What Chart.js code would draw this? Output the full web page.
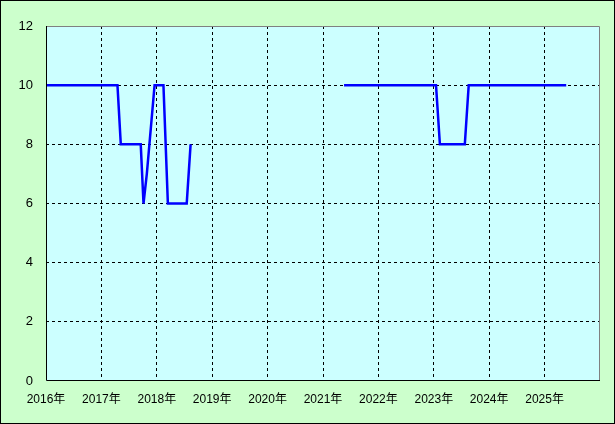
<!DOCTYPE html>
<html lang="ja">
<head>
  <meta charset="UTF-8" />
  <title>推移</title>
  <script src="https://cdn.jsdelivr.net/npm/chart.js"></script>
  <style>
    html, body { margin: 0; padding: 0; background: #fff; }
    #wrap { position: relative; width: 615px; height: 424px; }
  </style>
</head>
<body>
  <div id="wrap"><canvas id="chart"></canvas></div>

  <script>
    // (decimal years), null breaks the line
    const xYears = [2016.0, 2017.29, 2017.35, 2017.71, 2017.76, 2017.82, 2017.96, 2018.12, 2018.20, 2018.54, 2018.61,
                    2020.0,
                    2021.38, 2023.04, 2023.11, 2023.56, 2023.63, 2025.39];
    const values = [10, 10, 8, 8, 6, 7, 10, 10, 6, 6, 8,
                    null,
                    10, 10, 8, 8, 10, 10];
    const yTicks = [0, 2, 4, 6, 8, 10, 12];
    const xTicks = [2016, 2017, 2018, 2019, 2020, 2021, 2022, 2023, 2024, 2025, 2026];

    const fontFam = '"Liberation Sans", "Noto Sans CJK JP", sans-serif';

    const frame = {
      id: 'frame',
      beforeDraw(chart) {
        const { ctx, chartArea: a, width, height } = chart;
        ctx.save();
        ctx.fillStyle = '#CCFFCC';
        ctx.fillRect(0, 0, width, height);
        ctx.strokeStyle = '#000';
        ctx.lineWidth = 1;
        ctx.strokeRect(0.5, 0.5, width - 1, height - 1);
        ctx.fillStyle = '#CCFFFF';
        ctx.fillRect(a.left, a.top, a.right - a.left, a.bottom - a.top);
        ctx.restore();
      },
      afterDatasetsDraw(chart) {
        const { ctx, chartArea: a } = chart;
        ctx.save();
        ctx.lineWidth = 1;
        ctx.strokeStyle = '#808080';
        ctx.beginPath();
        ctx.moveTo(a.left, a.top + 0.5);
        ctx.lineTo(a.right - 0.5, a.top + 0.5);
        ctx.lineTo(a.right - 0.5, a.bottom);
        ctx.stroke();
        ctx.strokeStyle = '#000';
        ctx.beginPath();
        ctx.moveTo(a.left + 0.5, a.top);
        ctx.lineTo(a.left + 0.5, a.bottom - 0.5);
        ctx.lineTo(a.right, a.bottom - 0.5);
        ctx.stroke();
        ctx.restore();
      }
    };

    new Chart(document.getElementById('chart'), {
      type: 'line',
      data: {
        datasets: [{
          data: xYears.map((x, i) => ({ x: x, y: values[i] })),
          borderColor: '#0000FF',
          borderWidth: 2.5,
          pointRadius: 0,
          tension: 0,
          spanGaps: false
        }]
      },
      options: {
        responsive: true,
        maintainAspectRatio: false,
        animation: false,
        layout: { padding: { left: 0, top: 26, right: 15, bottom: 0 } },
        plugins: { legend: { display: false }, tooltip: { enabled: false } },
        scales: {
          x: {
            type: 'linear',
            min: 2016, max: 2026,
            afterFit: s => { s.height = 43; },
            afterBuildTicks: s => { s.ticks = xTicks.map(v => ({ value: v })); },
            border: { display: false, dash: [3, 3] },
            grid: {
              drawTicks: false,
              color: c => (c.tick.value === 2016 || c.tick.value === 2026) ? 'rgba(0,0,0,0)' : '#000',
              lineWidth: 1
            },
            ticks: {
              padding: 11,
              maxRotation: 0,
              autoSkip: false,
              color: '#000',
              font: { family: fontFam, size: 12 },
              callback: v => v === 2026 ? '' : v + '年'
            }
          },
          y: {
            min: 0, max: 12,
            afterFit: s => { s.width = 46; },
            afterBuildTicks: s => { s.ticks = yTicks.map(v => ({ value: v })); },
            border: { display: false, dash: [3, 3] },
            grid: {
              drawTicks: false,
              color: c => (c.tick.value === 0 || c.tick.value === 12) ? 'rgba(0,0,0,0)' : '#000',
              lineWidth: 1
            },
            ticks: {
              padding: 13,
              color: '#000',
              font: { family: fontFam, size: 13 }
            }
          }
        }
      },
      plugins: [frame]
    });
  </script>
</body>
</html>
